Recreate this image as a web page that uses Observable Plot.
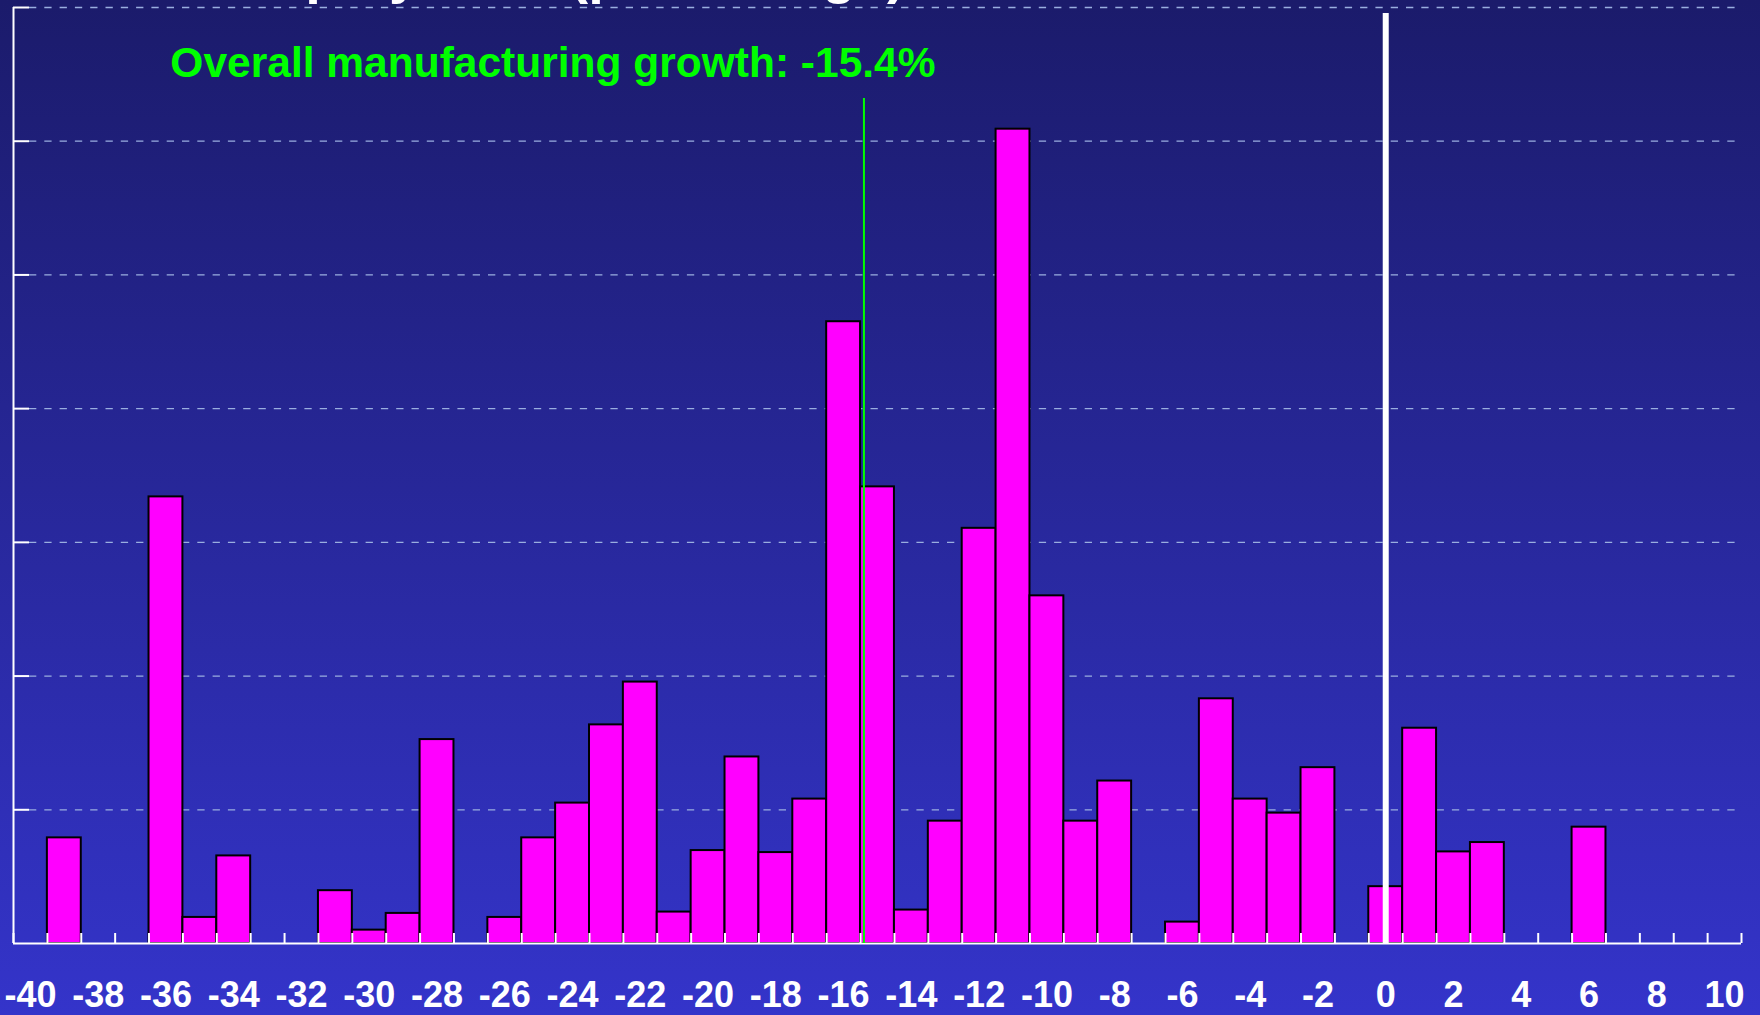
<!DOCTYPE html>
<html>
<head>
<meta charset="utf-8">
<script src="https://cdn.jsdelivr.net/npm/d3@7"></script>
<script src="https://cdn.jsdelivr.net/npm/@observablehq/plot@0.6"></script>
<style>
  html, body { margin: 0; padding: 0; width: 1760px; height: 1015px; overflow: hidden; }
  body {
    position: relative;
    background: linear-gradient(to bottom, #1b1b6b 0%, #3434ca 100%);
    font-family: "Liberation Sans", Arial, sans-serif;
  }
  #title {
    position: absolute; left: 218px; top: -55px;
    font-size: 56px; line-height: 56px; font-weight: bold; color: #ffffff;
    white-space: nowrap;
  }
  #chart { position: absolute; left: 0; top: 0; }
  #chart svg { display: block; }
</style>
</head>
<body>
<div id="title"></div>
<div id="chart"></div>
<script>
// ---- data ----
const bins = [-40, -39, -38, -37, -36, -35, -34, -33, -32, -31, -30, -29, -28, -27, -26, -25, -24, -23, -22, -21,
              -20, -19, -18, -17, -16, -15, -14, -13, -12, -11, -10, -9, -8, -7, -6, -5, -4, -3, -2, -1,
              0, 1, 2, 3, 4, 5, 6, 7, 8, 9, 10];
const shares = [0, 1.58, 0, 0, 6.68, 0.39, 1.31, 0, 0, 0.79, 0.20, 0.45, 3.05, 0, 0.39, 1.58, 2.10, 3.27, 3.91, 0.47,
                1.39, 2.79, 1.36, 2.16, 9.30, 6.83, 0.50, 1.83, 6.21, 12.18, 5.20, 1.83, 2.43, 0, 0.32, 3.66, 2.16, 1.95, 2.63, 0,
                0.85, 3.22, 1.37, 1.51, 0, 0, 1.74, 0, 0, 0, 0];
const tickLabels = [-40, -38, -36, -34, -32, -30, -28, -26, -24, -22, -20, -18, -16, -14, -12, -10, -8, -6, -4, -2,
                    0, 2, 4, 6, 8, 10];
const gridLevels = [2, 4, 6, 8, 10, 12, 14];
const overallGrowth = -15.4;
const annotation = "Overall manufacturing growth: -15.4%";
const titleText = "Employment (percentage)";

document.getElementById("title").textContent = titleText;

const data = bins.map((bin, i) => ({bin, share: shares[i]}));
const edges = [...bins.map(b => b - 0.5), bins[bins.length - 1] + 0.5];
const xDomain = [edges[0], edges[edges.length - 1]];

const chart = Plot.plot({
  width: 1760,
  height: 1015,
  marginTop: 7,
  marginBottom: 72,
  marginLeft: 13,
  marginRight: 19,
  style: {background: "transparent", fontFamily: "'Liberation Sans', Arial, sans-serif", color: "#ffffff"},
  x: {domain: xDomain, label: null},
  y: {domain: [0, 14], label: null},
  marks: [
    Plot.ruleY(gridLevels, {stroke: "#9aaee0", strokeWidth: 1.3, strokeDasharray: "7.3 8", insetLeft: 16}),
    Plot.rectY(data.filter(d => d.share > 0), {
      x1: d => d.bin - 0.5, x2: d => d.bin + 0.5, y: "share",
      fill: "#ff00ff", stroke: "#000000", strokeWidth: 2
    }),
    Plot.axisX({ticks: edges, tickSize: 10, dy: -10, tickFormat: () => "", label: null, stroke: "#ffffff", strokeWidth: 2}),
    Plot.ruleY([0], {stroke: "#ffffff", strokeWidth: 2}),
    Plot.axisX({ticks: tickLabels, tickSize: 0, tickPadding: 38, fontSize: 36, fontWeight: "bold", label: null,
                fill: "#ffffff", tickFormat: d => String(d)}),
    Plot.axisY({ticks: gridLevels, tickSize: 16, dx: 16, tickFormat: () => "", label: null, stroke: "#ffffff", strokeWidth: 2}),
    Plot.ruleX([xDomain[0]], {stroke: "#ffffff", strokeWidth: 2}),
    Plot.ruleX([0], {stroke: "#ffffff", strokeWidth: 6, insetTop: 6}),
    Plot.ruleX([overallGrowth], {stroke: "#00ff00", strokeWidth: 2, insetTop: 91}),
    Plot.text([overallGrowth], {
      x: d => d, text: () => annotation, frameAnchor: "top", lineAnchor: "middle", dy: 56, dx: -311,
      fill: "#00ff00", fontSize: 42.5, fontWeight: "bold"
    })
  ]
});
document.getElementById("chart").appendChild(chart);
</script>
</body>
</html>
